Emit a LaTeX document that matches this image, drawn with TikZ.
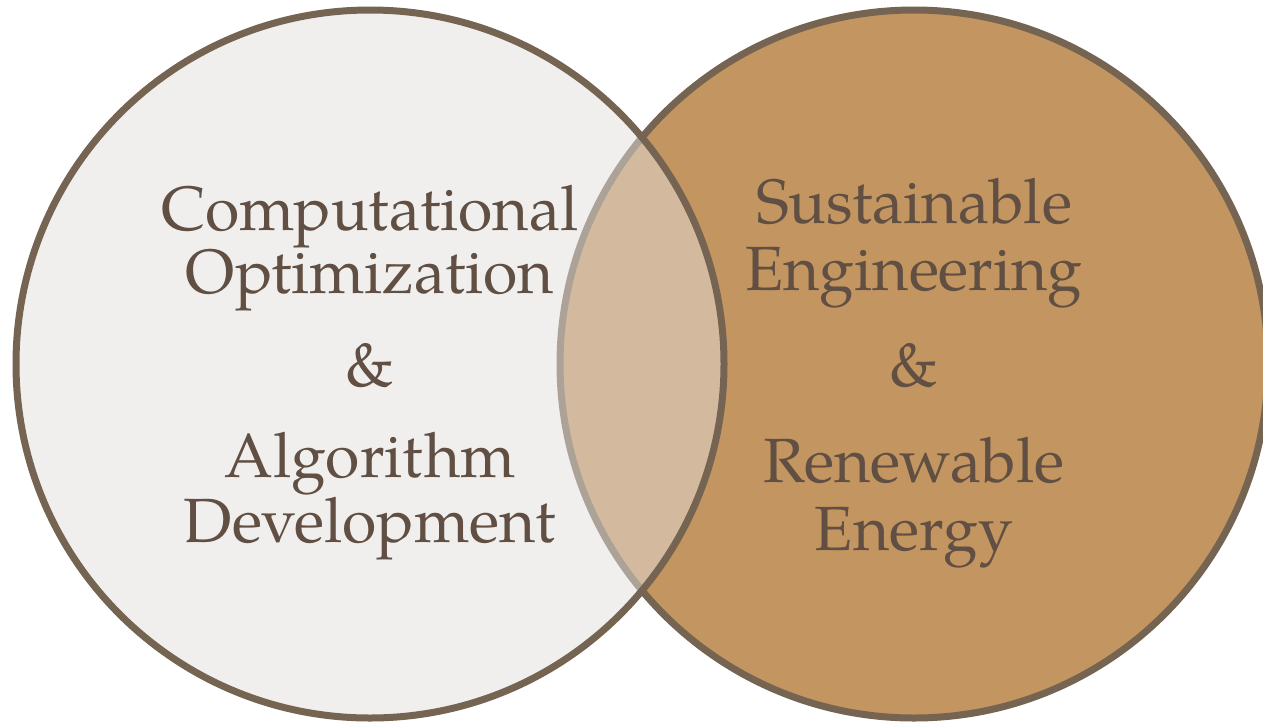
\documentclass[tikz,border=0pt]{standalone}
\usepackage{fontspec}
\setmainfont{TeX Gyre Pagella}
\definecolor{rimbrown}{HTML}{756452}
\definecolor{ochre}{HTML}{C39560}
\definecolor{mist}{HTML}{E3E0DC}
\definecolor{inkbrown}{HTML}{604F42}
\begin{document}
\begin{tikzpicture}[x=1pt,y=-1pt,
  rim/.style={draw=rimbrown,line width=7pt},
  label/.style={anchor=base,inner sep=0pt,text=inkbrown,font=\fontsize{62.5}{63}\selectfont}]
  \useasboundingbox (0,0) rectangle (1263,723);
  \clip (0,0) rectangle (1263,723);
  % right set, drawn first
  \path[rim,fill=ochre] (914,364) circle[radius=354];
  % left set, translucent fill over the right one
  \path[rim,fill=mist,fill opacity=0.5] (370,364) circle[radius=354];
  % left captions
  \node[label] (c1) at (370,230) {Computational};
  \node[label] (c2) at (370,293) {Optimization};
  \node[label] (c3) at (370,386) {\&};
  \node[label] (c4) at (370,477) {Algorithm};
  \node[label] (c5) at (370,542) {Development};
  % right captions
  \node[label] (s1) at (914,223) {Sustainable};
  \node[label] (s2) at (914,290) {Engineering};
  \node[label] (s3) at (914,386) {\&};
  \node[label] (s4) at (914,482) {Renewable};
  \node[label] (s5) at (914,550) {Energy};
\end{tikzpicture}
\end{document}
